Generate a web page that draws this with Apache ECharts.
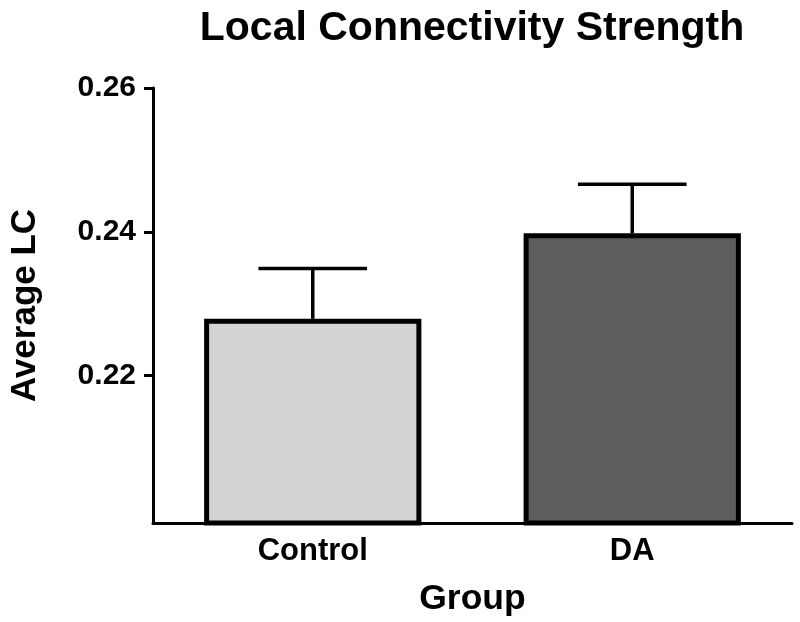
<!DOCTYPE html>
<html>
<head>
<meta charset="utf-8">
<script src="https://cdn.jsdelivr.net/npm/echarts@6/dist/echarts.min.js"></script>
<style>html,body{margin:0;padding:0;background:#fff}#c{width:800px;height:622px}</style>
</head>
<body>
<div id="c"></div>
<script>
var categories = ['Control', 'DA'];
var means = [0.2279, 0.2398];
var errTops = [0.2349, 0.2466];
var barColors = ['#d3d3d3', '#5d5d5d'];
var yTicks = [0.22, 0.24, 0.26];

var FONT = '"Liberation Sans", Arial, sans-serif';
var chart = echarts.init(document.getElementById('c'), null, {renderer: 'canvas'});
var option = {
  backgroundColor: '#ffffff',
  animation: false,
  title: {
    text: 'Local Connectivity Strength',
    left: 467, top: 3, textAlign: 'center',
    textStyle: {fontFamily: FONT, fontWeight: 'bold', fontSize: 41, color: '#000'}
  },
  grid: {left: 148, right: 8, top: 88, bottom: 99, containLabel: false},
  xAxis: {
    type: 'category',
    data: categories,
    name: 'Group',
    nameLocation: 'middle',
    nameGap: 58,
    nameTextStyle: {fontFamily: FONT, fontWeight: 'bold', fontSize: 35.5, color: '#000'},
    axisLine: {lineStyle: {color: '#000', width: 3}},
    axisTick: {alignWithLabel: true, length: 9, lineStyle: {color: '#000', width: 3}},
    axisLabel: {fontFamily: FONT, fontWeight: 'bold', fontSize: 31, color: '#000', margin: 13}
  },
  yAxis: {
    type: 'value',
    min: 0.1995, max: 0.26,
    name: 'Average LC',
    nameLocation: 'middle',
    nameGap: 110,
    nameTextStyle: {fontFamily: FONT, fontWeight: 'bold', fontSize: 35, color: '#000'},
    splitLine: {show: false},
    axisLine: {show: true, lineStyle: {color: '#000', width: 3}},
    axisTick: {show: true, length: 9, customValues: yTicks, lineStyle: {color: '#000', width: 3}},
    axisLabel: {customValues: yTicks, fontFamily: FONT, fontWeight: 'bold', fontSize: 30, color: '#000', margin: 17,
      formatter: function (v) { return v.toFixed(2); }}
  },
  series: [
    {
      type: 'bar',
      data: means.map(function (v, i) { return {value: v, itemStyle: {color: barColors[i]}}; }),
      barWidth: '68%',
      itemStyle: {borderColor: '#000', borderWidth: 5},
      z: 2
    },
    {
      type: 'custom',
      data: means.map(function (v, i) { return [i, v, errTops[i]]; }),
      z: 1,
      renderItem: function (params, api) {
        var x = api.coord([api.value(0), api.value(1)])[0];
        var yb = api.coord([api.value(0), api.value(1)])[1];
        var yt = api.coord([api.value(0), api.value(2)])[1];
        var half = api.size([1, 0])[0] * 0.17;
        var st = {stroke: '#000', lineWidth: 3.5};
        return {
          type: 'group',
          children: [
            {type: 'line', shape: {x1: x, y1: yb, x2: x, y2: yt}, style: st},
            {type: 'line', shape: {x1: x - half, y1: yt, x2: x + half, y2: yt}, style: st}
          ]
        };
      }
    }
  ]
};
chart.setOption(option);
</script>
</body>
</html>
